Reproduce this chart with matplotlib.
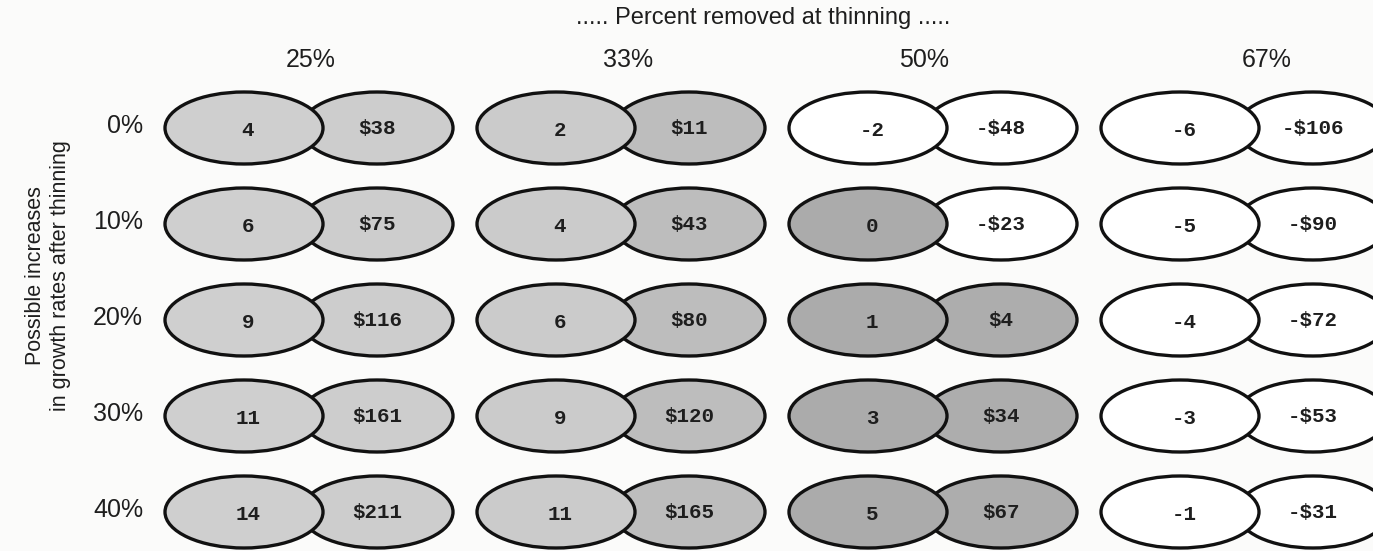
import matplotlib.pyplot as plt
from matplotlib.patches import Ellipse

# data
COLUMNS = ["25%", "33%", "50%", "67%"]          # percent removed at thinning
ROWS = ["0%", "10%", "20%", "30%", "40%"]       # growth rate increase
LEFT_VALUES = [
    [4, 2, -2, -6],
    [6, 4, 0, -5],
    [9, 6, 1, -4],
    [11, 9, 3, -3],
    [14, 11, 5, -1],
]
DOLLAR_VALUES = [
    [38, 11, -48, -106],
    [75, 43, -23, -90],
    [116, 80, 4, -72],
    [161, 120, 34, -53],
    [211, 165, 67, -31],
]

TITLE = "..... Percent removed at thinning ....."
YLABEL = "Possible increases\nin growth rates after thinning"

# layout (pixel units, y grows downwards)
W, H = 1373, 551
COL0_X = 244
COL_STEP = 312
RIGHT_OFFSET = 133
ROW0_Y = 128
ROW_STEP = 96
LEFT_W, RIGHT_W, ELL_H = 158, 152, 72
HEADER_NUDGE = [0, 6, -10, 20]  # scan is not perfectly regular

# styles
BG = "#fbfbfa"
SHADES = {  # per column: (left, right) fill for non-negative values
    "25%": ("#cfcfcf", "#cdcdcd"),
    "33%": ("#cbcbcb", "#bdbdbd"),
    "50%": ("#ababab", "#adadad"),
    "67%": ("#ababab", "#adadad"),
}
SANS = ["Liberation Sans", "DejaVu Sans"]
MONO = ["Liberation Mono", "DejaVu Sans Mono"]
INK = "#1e1e1e"


def fmt_dollar(v):
    return f"-${abs(v)}" if v < 0 else f"${v}"


fig = plt.figure(figsize=(W / 100, H / 100), dpi=100)
fig.patch.set_facecolor(BG)
ax = fig.add_axes([0, 0, 1, 1])
ax.set_xlim(0, W)
ax.set_ylim(H, 0)
ax.axis("off")

ax.text(763, 18, TITLE, ha="center", va="center", fontsize=17,
        family=SANS, color=INK)
ax.text(48, 276, YLABEL, ha="center", va="center", rotation=90,
        fontsize=15.5, family=SANS, color=INK, linespacing=1.25)

for j, col in enumerate(COLUMNS):
    lx = COL0_X + j * COL_STEP
    rx = lx + RIGHT_OFFSET
    ax.text((lx + rx) / 2 + HEADER_NUDGE[j], 60, col, ha="center", va="center",
            fontsize=18, family=SANS, color=INK)
    left_shade, right_shade = SHADES[col]
    for i, row in enumerate(ROWS):
        y = ROW0_Y + i * ROW_STEP
        lv = LEFT_VALUES[i][j]
        dv = DOLLAR_VALUES[i][j]
        # right ellipse first, the left one overlaps it
        ax.add_patch(Ellipse((rx, y), RIGHT_W, ELL_H, lw=2.4, ec="#111111",
                             fc="white" if dv < 0 else right_shade, zorder=2))
        ax.add_patch(Ellipse((lx, y), LEFT_W, ELL_H, lw=2.4, ec="#111111",
                             fc="white" if lv < 0 else left_shade, zorder=3))
        ax.text(lx + 4, y + 2, str(lv), ha="center", va="center",
                fontsize=15, family=MONO, weight="bold", color=INK, zorder=4)
        ax.text(rx, y + 1, fmt_dollar(dv), ha="center", va="center",
                fontsize=15, family=MONO, weight="bold", color=INK, zorder=4)

for i, row in enumerate(ROWS):
    y = ROW0_Y + i * ROW_STEP
    ax.text(143, y - 2, row, ha="right", va="center", fontsize=18,
            family=SANS, color=INK)

fig.savefig("out.png", dpi=100, facecolor=BG)
